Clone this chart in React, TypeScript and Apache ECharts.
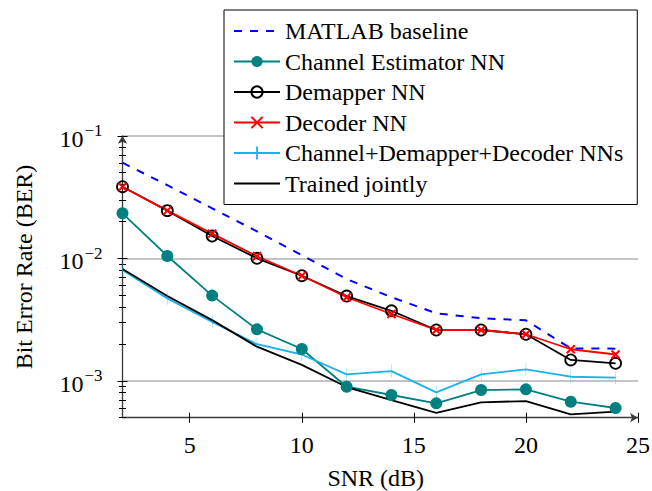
import React, { useEffect, useRef } from "react";
import * as echarts from "echarts";

const snr = [2, 4, 6, 8, 10, 12, 14, 16, 18, 20, 22, 24];
const matlabBaseline = [0.0603, 0.0395, 0.0256, 0.0166, 0.0106, 0.00678, 0.00481, 0.00356, 0.00324, 0.00312, 0.00184, 0.00183];
const channelNN = [0.0233, 0.01045, 0.00496, 0.00263, 0.00182, 0.000895, 0.000766, 0.000655, 0.000841, 0.000852, 0.000675, 0.0006];
const demapperNN = [0.0384, 0.0245, 0.0152, 0.01, 0.00721, 0.00492, 0.00373, 0.0026, 0.0026, 0.0024, 0.00148, 0.00139];
const decoderNN = [0.0384, 0.0245, 0.0159, 0.0104, 0.00721, 0.00481, 0.00351, 0.0026, 0.0026, 0.0024, 0.00181, 0.00164];
const allNNs = [0.00802, 0.00471, 0.00303, 0.00199, 0.00164, 0.00113, 0.0012, 0.000805, 0.00113, 0.00124, 0.00108, 0.00106];
const trainedJointly = [0.00818, 0.00492, 0.00313, 0.0019, 0.00135, 0.00089, 0.000697, 0.000548, 0.000667, 0.000684, 0.000532, 0.00056];

const xTicks = [5, 10, 15, 20, 25];
const yMajorExp = [-3, -2, -1];
const yMinorValues = [5e-4, 6e-4, 7e-4, 8e-4, 9e-4, 2e-3, 3e-3, 4e-3, 5e-3, 6e-3, 7e-3, 8e-3, 9e-3, 2e-2, 3e-2, 4e-2, 5e-2, 6e-2, 7e-2, 8e-2, 9e-2];

const X_MIN = 2;
const X_MAX = 25;
const Y_MIN = Math.log10(5e-4);
const Y_MAX = -1;

const FONT = "'Liberation Serif', 'Times New Roman', 'DejaVu Serif', serif";
const AXIS_COLOR = "#3a3a3a";

function toPairs(vals: number[]) {
  return snr.map((x, i) => [x, Math.log10(vals[i])]);
}

export default function App() {
  const ref = useRef<HTMLDivElement>(null);
  useEffect(() => {
    document.body.style.margin = "0";
    if (!ref.current) return;
    const chart = echarts.init(ref.current, null, { renderer: "svg" });
    const yMinorLog = yMinorValues.map((v) => Math.log10(v));

    const baseY = {
      type: "value",
      position: "left",
      min: Y_MIN,
      max: Y_MAX,
      interval: 1,
      offset: 0,
      axisLine: { show: false },
      axisLabel: { show: false },
      splitLine: { show: false },
    };

    const option: any = {
      animation: false,
      backgroundColor: "#ffffff",
      textStyle: { fontFamily: FONT },
      grid: {
        left: 122.5,
        right: 14,
        top: 135.8,
        bottom: 73.3,
        containLabel: false,
        outerBoundsMode: "none",
      },
      legend: {
        orient: "vertical",
        left: 224,
        top: 10,
        padding: [9, 14, 9, 9],
        itemWidth: 46,
        itemHeight: 14,
        itemGap: 6.5,
        backgroundColor: "#ffffff",
        borderColor: "#000000",
        borderWidth: 1,
        borderRadius: 0,
        textStyle: { fontFamily: FONT, fontSize: 24, color: "#000", lineHeight: 24 },
        data: [
          { name: "MATLAB baseline", itemStyle: { opacity: 0 } },
          "Channel Estimator NN",
          "Demapper NN",
          "Decoder NN",
          {
            name: "Channel+Demapper+Decoder NNs",
            icon: "path://M0,6.1L46,6.1L46,7.9L0,7.9Z M22.1,0.5L23.9,0.5L23.9,13.5L22.1,13.5Z",
          },
          { name: "Trained jointly", itemStyle: { opacity: 0 } },
        ],
      },
      xAxis: [
        {
          type: "value",
          min: X_MIN,
          max: X_MAX,
          name: "SNR (dB)",
          nameLocation: "middle",
          nameGap: 48,
          nameTextStyle: { fontFamily: FONT, fontSize: 24, lineHeight: 24, color: "#000", padding: [0, 9, 0, 0] },
          axisLine: {
            show: true,
            lineStyle: { color: AXIS_COLOR, width: 1.3 },
            symbol: ["none", "arrow"],
            symbolSize: [7, 8],
          },
          axisTick: { show: true, customValues: xTicks, length: 5, lineStyle: { color: "#000", width: 1 } },
          axisLabel: {
            customValues: xTicks,
            fontFamily: FONT,
            fontSize: 24,
            color: "#000",
            margin: 15,
          },
          splitLine: { show: false },
        },
        {
          type: "value",
          min: X_MIN,
          max: X_MAX,
          position: "bottom",
          offset: 0,
          axisLine: { show: false },
          axisTick: { show: true, inside: true, customValues: xTicks, length: 5, lineStyle: { color: "#000", width: 1 } },
          axisLabel: { show: false },
          splitLine: { show: false },
        },
      ],
      yAxis: [
        {
          type: "value",
          position: "left",
          min: Y_MIN,
          max: Y_MAX,
          interval: 1,
          axisLine: {
            show: true,
            lineStyle: { color: AXIS_COLOR, width: 1.3 },
            symbol: ["none", "arrow"],
            symbolSize: [7, 8],
          },
          axisTick: { show: true, customValues: yMajorExp, length: 5, lineStyle: { color: "#000", width: 1 } },
          axisLabel: {
            customValues: yMajorExp,
            margin: 20,
            formatter: (v: number) => `{b|10}{s|−${Math.round(-v)}}`,
            rich: {
              b: { fontFamily: FONT, fontSize: 24, color: "#000", padding: [6, 0, 0, 0] },
              s: { fontFamily: FONT, fontSize: 17, color: "#000", padding: [0, 0, 10, 1] },
            },
          },
          splitLine: { show: true, lineStyle: { color: "#c4c4c4", width: 2 } },
        },
        {
          ...baseY,
          axisTick: { show: true, inside: true, customValues: yMajorExp, length: 5, lineStyle: { color: "#000", width: 1 } },
        },
        {
          ...baseY,
          axisTick: { show: true, customValues: yMinorLog, length: 3.5, lineStyle: { color: "#000", width: 1 } },
        },
        {
          ...baseY,
          axisTick: { show: true, inside: true, customValues: yMinorLog, length: 3.5, lineStyle: { color: "#000", width: 1 } },
        },
      ],
      series: [
        {
          name: "MATLAB baseline",
          type: "line",
          data: toPairs(matlabBaseline),
          symbol: "none",
          lineStyle: { color: "#0000ff", width: 2, type: [8, 8] },
          itemStyle: { color: "#0000ff" },
        },
        {
          name: "Channel Estimator NN",
          type: "line",
          data: toPairs(channelNN),
          symbol: "circle",
          symbolSize: 12,
          lineStyle: { color: "#008080", width: 1.8 },
          itemStyle: { color: "#008080" },
        },
        {
          name: "Demapper NN",
          type: "line",
          data: toPairs(demapperNN),
          symbol: "circle",
          symbolSize: 11,
          lineStyle: { color: "#000000", width: 1.8 },
          itemStyle: { color: "rgba(255,255,255,0)", borderColor: "#000000", borderWidth: 1.8 },
        },
        {
          name: "Decoder NN",
          type: "line",
          data: toPairs(decoderNN),
          symbol: "path://M0,0L10,10M10,0L0,10",
          symbolSize: 8,
          lineStyle: { color: "#ff0000", width: 1.8 },
          itemStyle: { color: "#ff0000", borderColor: "#ff0000", borderWidth: 2 },
        },
        {
          name: "Channel+Demapper+Decoder NNs",
          type: "line",
          data: toPairs(allNNs),
          symbol: "path://M0,0L2,0L2,13L0,13Z",
          symbolKeepAspect: true,
          symbolSize: [2, 13],
          lineStyle: { color: "#1ab2ea", width: 1.8 },
          itemStyle: { color: "#1ab2ea" },
        },
        {
          name: "Trained jointly",
          type: "line",
          data: toPairs(trainedJointly),
          symbol: "none",
          lineStyle: { color: "#000000", width: 1.8 },
          itemStyle: { color: "#000000" },
        },
      ],
      graphic: [
        {
          type: "text",
          x: 24,
          y: 267,
          rotation: Math.PI / 2,
          style: {
            text: "Bit Error Rate (BER)",
            fontFamily: FONT,
            fontSize: 24,
            fill: "#000",
            textAlign: "center",
            textVerticalAlign: "middle",
          },
        },
      ],
    };
    chart.setOption(option);
    return () => chart.dispose();
  }, []);
  return <div ref={ref} style={{ width: 652, height: 491 }} />;
}
